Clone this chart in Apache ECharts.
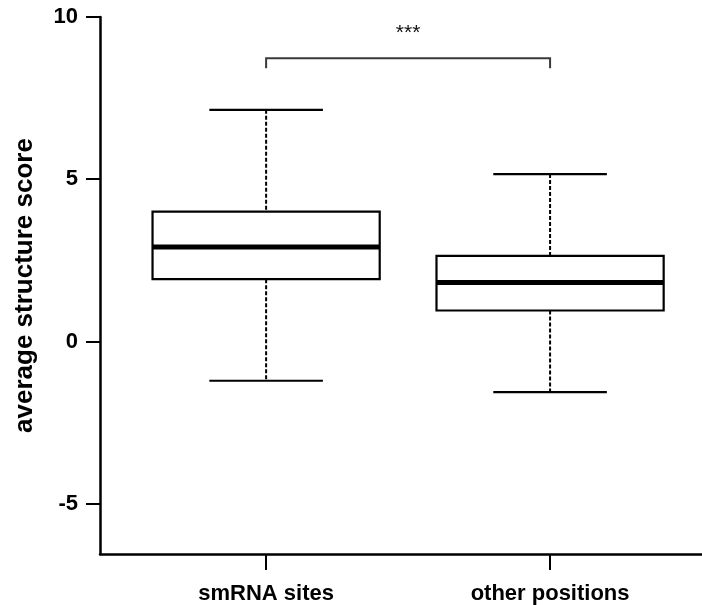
<!DOCTYPE html>
<html>
<head>
<meta charset="utf-8">
<script src="https://cdn.jsdelivr.net/npm/echarts@6/dist/echarts.min.js"></script>
<style>
  html, body { margin: 0; padding: 0; background: #fff; }
  #chart { width: 702px; height: 605px; }
</style>
</head>
<body>
<div id="chart"></div>
<script>
// Groups and their box summaries
const categories = ['smRNA sites', 'other positions'];
const lowerWhisker = [-1.21, -1.56];
const q1 = [1.92, 0.955];
const median = [2.91, 1.82];
const q3 = [4.00, 2.64];
const upperWhisker = [7.14, 5.16];

// Significance bracket between the two groups
const bracketLevel = 8.73;
const bracketFoot = 8.42;
const bracketLabelLevel = 9.5;
const bracketLabel = '***';

// Y tick labels
const yTicks = [-5, 0, 5, 10];

const positions = categories.map((_, i) => i + 1);
const boxData = categories.map((_, i) => [positions[i], lowerWhisker[i], q1[i], median[i], q3[i], upperWhisker[i]]);

const FONT = '"Liberation Sans", Arial, sans-serif';
const BOX_HALF = 0.4;
const CAP_HALF = 0.2;

function renderBox(params, api) {
  const x = api.value(0);
  const pLow = api.coord([x, api.value(1)]);
  const pQ1 = api.coord([x, api.value(2)]);
  const pMed = api.coord([x, api.value(3)]);
  const pQ3 = api.coord([x, api.value(4)]);
  const pHigh = api.coord([x, api.value(5)]);
  const left = api.coord([x - BOX_HALF, 0])[0];
  const right = api.coord([x + BOX_HALF, 0])[0];
  const capL = api.coord([x - CAP_HALF, 0])[0];
  const capR = api.coord([x + CAP_HALF, 0])[0];
  const cx = pMed[0];
  const solid = { stroke: '#000', lineWidth: 2.2, fill: null };
  const dashed = { stroke: '#000', lineWidth: 2, lineDash: [4, 2] };
  return {
    type: 'group',
    children: [
      { type: 'line', shape: { x1: cx, y1: pHigh[1], x2: cx, y2: pQ3[1] }, style: dashed },
      { type: 'line', shape: { x1: cx, y1: pQ1[1], x2: cx, y2: pLow[1] }, style: dashed },
      { type: 'line', shape: { x1: capL, y1: pHigh[1], x2: capR, y2: pHigh[1] }, style: solid },
      { type: 'line', shape: { x1: capL, y1: pLow[1], x2: capR, y2: pLow[1] }, style: solid },
      { type: 'rect', shape: { x: left, y: pQ3[1], width: right - left, height: pQ1[1] - pQ3[1] },
        style: { stroke: '#000', lineWidth: 2.2, fill: '#fff' } },
      { type: 'line', shape: { x1: left, y1: pMed[1], x2: right, y2: pMed[1] },
        style: { stroke: '#000', lineWidth: 5 } }
    ]
  };
}

function renderBracket(params, api) {
  const a = api.coord([positions[0], bracketLevel]);
  const b = api.coord([positions[1], bracketLevel]);
  const foot = api.coord([positions[0], bracketFoot])[1];
  const lab = api.coord([(positions[0] + positions[1]) / 2, bracketLabelLevel]);
  const st = { stroke: '#3a3a3a', lineWidth: 2, fill: null };
  return {
    type: 'group',
    children: [
      { type: 'polyline', shape: { points: [[a[0], foot], [a[0], a[1]], [b[0], b[1]], [b[0], foot]] }, style: st },
      { type: 'text', x: lab[0], y: lab[1],
        style: { text: bracketLabel, fill: '#111', font: '21px ' + FONT, align: 'center', verticalAlign: 'middle' } }
    ]
  };
}

const chart = echarts.init(document.getElementById('chart'), null, { renderer: 'canvas' });
chart.setOption({
  animation: false,
  backgroundColor: '#fff',
  grid: { left: 100, right: 0, top: 17, bottom: 51, containLabel: false, outerBoundsMode: 'none' },
  xAxis: {
    type: 'value',
    min: 0.415,
    max: 2.535,
    splitLine: { show: false },
    axisLine: { show: true, onZero: false, lineStyle: { color: '#000', width: 2.5 } },
    axisTick: { show: true, customValues: positions, length: 16, lineStyle: { color: '#000', width: 2 } },
    axisLabel: {
      show: true,
      customValues: positions,
      margin: 29,
      color: '#000',
      fontFamily: FONT,
      fontWeight: 'bold',
      fontSize: 22,
      formatter: v => categories[Math.round(v) - 1] || ''
    }
  },
  yAxis: {
    type: 'value',
    min: -6.55,
    max: 10,
    name: 'average structure score',
    nameLocation: 'middle',
    nameGap: 62,
    nameMoveOverlap: false,
    nameTextStyle: { color: '#000', fontFamily: FONT, fontWeight: 'bold', fontSize: 26 },
    splitLine: { show: false },
    axisLine: { show: true, lineStyle: { color: '#000', width: 2.5 } },
    axisTick: { show: true, customValues: yTicks, length: 14, lineStyle: { color: '#000', width: 2 } },
    axisLabel: {
      show: true,
      customValues: yTicks,
      margin: 22,
      color: '#000',
      fontFamily: FONT,
      fontWeight: 'bold',
      fontSize: 22
    }
  },
  series: [
    {
      type: 'custom',
      renderItem: renderBox,
      data: boxData,
      encode: { x: 0, y: [1, 2, 3, 4, 5] },
      clip: false
    },
    {
      type: 'custom',
      renderItem: renderBracket,
      data: [[positions[0], bracketLevel]],
      clip: false
    }
  ]
});
</script>
</body>
</html>
